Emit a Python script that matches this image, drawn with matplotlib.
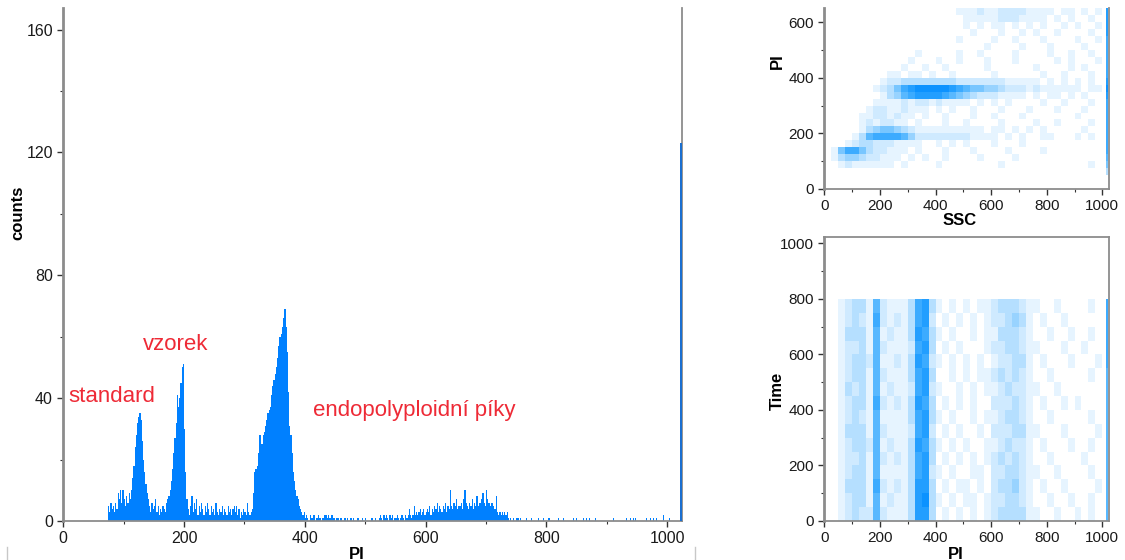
import numpy as np
import matplotlib
matplotlib.use("Agg")
import matplotlib.pyplot as plt
from matplotlib.colors import ListedColormap, BoundaryNorm
from matplotlib.lines import Line2D

plt.rcParams['font.family'] = ['Liberation Sans', 'DejaVu Sans']

# ---------------- histogram data (PI channel counts, 2-channel bins from channel 70)
hist_start = 70
hist_bin = 2
hist_counts = [
    0, 0, 5, 3, 6, 4, 5, 3, 6, 4,
    9, 7, 10, 6, 10, 7, 5, 8, 6, 9,
    7, 10, 14, 18, 24, 28, 32, 34, 35, 33,
    26, 20, 16, 12, 9, 7, 5, 3, 6, 4,
    5, 7, 3, 5, 2, 4, 3, 5, 4, 3,
    6, 7, 8, 10, 13, 17, 22, 27, 32, 41,
    37, 40, 45, 50, 51, 30, 16, 7, 4, 2,
    5, 8, 3, 6, 4, 7, 2, 5, 3, 6,
    4, 2, 5, 3, 6, 4, 2, 5, 3, 4,
    2, 6, 3, 2, 4, 3, 5, 2, 4, 3,
    2, 5, 3, 4, 2, 4, 5, 3, 5, 2,
    4, 1, 3, 2, 4, 3, 2, 6, 3, 2,
    3, 4, 9, 16, 17, 18, 22, 28, 28, 25,
    28, 29, 31, 33, 35, 36, 37, 41, 44, 46,
    48, 50, 53, 57, 60, 61, 63, 66, 69, 63,
    55, 42, 31, 28, 22, 16, 13, 10, 8, 7,
    5, 4, 3, 2, 3, 1, 2, 1, 0, 2,
    1, 1, 2, 0, 1, 1, 2, 1, 0, 1,
    1, 2, 2, 1, 2, 1, 1, 2, 1, 1,
    0, 1, 1, 0, 1, 1, 0, 1, 1, 0,
    1, 0, 1, 1, 0, 1, 0, 0, 1, 1,
    0, 0, 1, 0, 0, 1, 0, 0, 0, 0,
    1, 0, 0, 1, 0, 0, 1, 2, 1, 0,
    2, 1, 2, 1, 0, 2, 1, 2, 0, 1,
    1, 2, 1, 0, 1, 2, 1, 0, 2, 1,
    2, 4, 2, 1, 2, 5, 2, 3, 2, 3,
    4, 2, 3, 4, 2, 3, 4, 3, 5, 2,
    4, 3, 5, 4, 6, 3, 5, 4, 3, 5,
    4, 6, 3, 5, 4, 10, 5, 4, 6, 5,
    7, 4, 5, 5, 6, 4, 7, 10, 6, 5,
    4, 6, 5, 7, 4, 6, 5, 8, 5, 6,
    6, 7, 9, 6, 5, 10, 7, 6, 5, 6,
    6, 5, 4, 8, 3, 2, 3, 2, 3, 2,
    3, 2, 3, 1, 0, 1, 0, 1, 0, 0,
    1, 1, 0, 1, 0,
]
tail_channels = [750, 766, 775, 786, 794, 802, 805, 819, 827, 830,
                 844, 849, 860, 866, 871, 880, 910, 932, 938, 943,
                 946, 965, 971, 976, 982, 993, 1003]
tail_counts = [1, 1, 1, 1, 1, 1, 1, 1, 1, 1,
               1, 1, 1, 1, 1, 1, 1, 1, 1, 1,
               1, 1, 1, 1, 1, 2, 1]
end_channel = 1022
end_count = 123
hist_xticks = [0, 200, 400, 600, 800, 1000]
hist_yticks = [0, 40, 80, 120, 160]

annotations = ["standard", "vzorek", "endopolyploidní píky"]
annot_x = [9, 132, 413]
annot_y = [40.5, 57.5, 36]

# ---------------- SSC vs PI density (levels 0-9), rows from PI 650 down to 0, 25-unit bins
ssc_pi_rows = [
    "00000000 00000000 00011121 122221 111011 0101 08",
    "00000000 00000000 00001111 122211 110101 0010 08",
    "00000000 00000000 00001010 110101 010010 1001 08",
    "00000000 00000000 00000100 010010 100100 0010 08",
    "00000000 00000000 00010000 100100 010000 1001 07",
    "00000000 00000000 00000001 000010 001000 0100 07",
    "00000000 00000100 00010010 000100 001001 0010 07",
    "00000000 00001000 10010001 000100 000101 0001 07",
    "00000000 00010010 01000001 000000 100001 0100 07",
    "00000000 01101101 00100000 100000 010010 0010 07",
    "00000000 12233333 33322222 221111 101010 1010 08",
    "00000001 23578999 99876554 432221 211111 1011 09",
    "00000000 13467888 87654322 211110 101101 0100 08",
    "00000001 11121221 21111010 101000 010010 0010 07",
    "00000012 21121110 10100100 010001 000100 0100 07",
    "00000112 21211010 01000100 100010 000000 1000 07",
    "00000121 22110100 01001000 010000 100100 0010 07",
    "00000134 55432111 11111110 110101 010000 0100 07",
    "00001367 77764222 22222111 101010 011000 1010 07",
    "00012332 22111100 10101000 100010 000000 0000 07",
    "01577532 21110100 01000100 001000 010000 0000 07",
    "01344322 11101010 01000010 000100 000000 0000 06",
    "00121111 11010000 10000000 010000 000000 0010 05",
    "00000000 00000000 00000000 000000 000000 0000 03",
    "00000000 00000000 00000000 000000 000000 0000 00",
    "00000000 00000000 00000000 000000 000000 0000 00",
]

# ---------------- PI vs Time density, rows from Time 800 down to 0, 50-unit bins
pi_time_rows = [
    "00123316 21113783 10101011 233321 100100 0010 07",
    "00123217 21213782 01010101 223431 010010 0000 07",
    "00133316 12113873 10100101 133321 001001 0010 07",
    "00122316 21112783 01010001 223321 100010 0100 07",
    "00123326 11213872 10101010 122331 010001 0001 07",
    "00123316 21113783 00101011 232321 001000 0010 06",
    "00132316 12112782 10010101 123221 100100 0000 06",
    "00123317 21213873 01010100 222321 010010 1000 06",
    "00123216 11113783 10100101 123321 001000 0010 06",
    "00133316 21112782 01010010 222331 100010 0001 06",
    "00123326 12113873 10101001 123221 010001 0010 06",
    "00122316 21213783 01010101 232321 001000 0100 06",
    "00123316 11113782 10100110 223321 100100 0010 06",
    "00133317 21213883 01011010 233421 010010 0001 06",
    "00123316 12113893 10101101 223321 001001 0010 06",
    "00123226 21113883 01010101 233331 100100 1010 06",
]
scatter_ticks = [0, 200, 400, 600, 800, 1000]
ssc_pi_yticks = [0, 200, 400, 600]


def grid(rows):
    return np.array([[int(ch) for ch in r.replace(" ", "")] for r in rows[::-1]])


x_edges = np.r_[np.arange(0, 1001, 25), 1013, 1022]
ssc_pi_y_edges = np.arange(0, 651, 25)
pi_time_y_edges = np.arange(0, 801, 50)

blue = "#0080ff"
red = "#ee2a36"
spine_gray = "#8c8c8c"
tick_col = "#333333"
levels = ['#ffffff', '#e6f4ff', '#cfeaff', '#b5dfff', '#98d3ff',
          '#78c6ff', '#58b8ff', '#3cabff', '#229eff', '#0c92ff']
cmap = ListedColormap(levels)
norm = BoundaryNorm(np.arange(-0.5, 10.5, 1), 10)

W, H = 1125, 560
fig = plt.figure(figsize=(W / 100, H / 100), dpi=100)


def ax_px(left, top, right, bottom):
    return fig.add_axes([left / W, 1 - bottom / H, (right - left) / W, (bottom - top) / H])


def style(ax, fs, spines_on):
    for s in ["left", "right", "top", "bottom"]:
        ax.spines[s].set_visible(s in spines_on)
        ax.spines[s].set_color(spine_gray)
        ax.spines[s].set_linewidth(1.3)
    ax.spines["left"].set_linewidth(2.0)
    ax.tick_params(which="major", direction="out", length=4.5, width=1.0,
                   color=tick_col, labelsize=fs, labelcolor="#1a1a1a", pad=3)
    ax.tick_params(which="minor", direction="out", length=2.5, width=0.8, color=tick_col)
    ax.tick_params(top=False, right=False, which="both")


# ---------------- histogram
ax = ax_px(63.3, 8, 681.7, 521)
edges = hist_start + hist_bin * np.arange(len(hist_counts) + 1)
ax.stairs(hist_counts, edges, fill=True, color=blue, linewidth=0)
ax.bar(tail_channels, tail_counts, width=1.5, align="edge", color=blue, linewidth=0)
ax.bar([end_channel], [end_count], width=2.4, align="edge", color="#1a6fd0",
       linewidth=0, zorder=3, clip_on=False)
ax.set_xlim(0, 1024)
ax.set_ylim(0, 167)
ax.set_xticks(hist_xticks)
ax.set_xticks(np.arange(100, 1001, 200), minor=True)
ax.set_yticks(hist_yticks)
ax.set_yticks(np.arange(20, 161, 40), minor=True)
style(ax, 11.5, ["left", "bottom", "right"])
for t, x, y in zip(annotations, annot_x, annot_y):
    ax.text(x, y, t, color=red, fontsize=16, ha="left", va="center")
fig.text(18 / W, 1 - 213 / H, "counts", rotation=90, fontsize=12, fontweight="bold",
         ha="center", va="center")
fig.text(357 / W, 1 - 547 / H, "PI", fontsize=12, fontweight="bold", ha="center", va="top")

# ---------------- SSC vs PI
ax2 = ax_px(824.3, 8.3, 1109.3, 189)
ax2.pcolormesh(x_edges, ssc_pi_y_edges, grid(ssc_pi_rows), cmap=cmap, norm=norm, shading="flat")
ax2.set_xlim(0, 1025)
ax2.set_ylim(0, 650)
ax2.set_xticks(scatter_ticks)
ax2.set_xticks(np.arange(100, 1001, 200), minor=True)
ax2.set_yticks(ssc_pi_yticks)
ax2.set_yticks(np.arange(100, 601, 200), minor=True)
style(ax2, 11, ["left", "bottom", "right"])
fig.text(777 / W, 1 - 61 / H, "PI", rotation=90, fontsize=12, fontweight="bold", ha="center", va="center")
fig.text(960 / W, 1 - 221 / H, "SSC", fontsize=12, fontweight="bold", ha="center", va="center")

# ---------------- PI vs Time
ax3 = ax_px(824.3, 236.7, 1109.3, 521)
ax3.pcolormesh(x_edges, pi_time_y_edges, grid(pi_time_rows), cmap=cmap, norm=norm, shading="flat")
ax3.set_xlim(0, 1025)
ax3.set_ylim(0, 1024)
ax3.set_xticks(scatter_ticks)
ax3.set_xticks(np.arange(100, 1001, 200), minor=True)
ax3.set_yticks(scatter_ticks)
ax3.set_yticks(np.arange(100, 1001, 200), minor=True)
style(ax3, 11, ["left", "bottom", "right", "top"])
fig.text(777 / W, 1 - 391 / H, "Time", rotation=90, fontsize=12, fontweight="bold", ha="center", va="center")
fig.text(956 / W, 1 - 547 / H, "PI", fontsize=12, fontweight="bold", ha="center", va="top")

# panel border remnants at the bottom edge
for xp in (7, 695):
    fig.add_artist(Line2D([xp / W, xp / W], [0, 1 - 547 / H], color="#c8c8c8", linewidth=1))

fig.savefig("out.png", dpi=100)
